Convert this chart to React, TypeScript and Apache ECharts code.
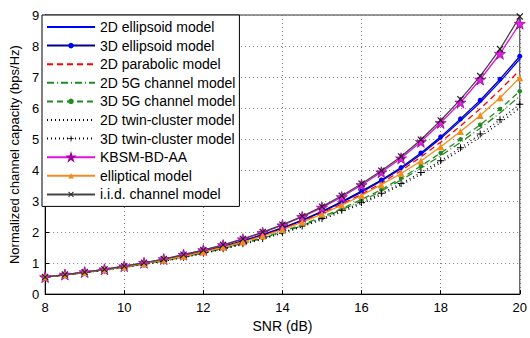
import React, { useEffect, useRef } from "react";
import * as echarts from "echarts";

const snr = [8, 8.5, 9, 9.5, 10, 10.5, 11, 11.5, 12, 12.5, 13, 13.5, 14, 14.5, 15, 15.5, 16, 16.5, 17, 17.5, 18, 18.5, 19, 19.5, 20];

const ellipsoid2D = [0.55, 0.62, 0.7, 0.79, 0.88, 0.99, 1.1, 1.23, 1.37, 1.53, 1.71, 1.9, 2.12, 2.37, 2.65, 2.96, 3.29, 3.65, 4.04, 4.5, 5.02, 5.59, 6.18, 6.85, 7.58];
const ellipsoid3D = [0.55, 0.62, 0.7, 0.79, 0.89, 0.99, 1.11, 1.24, 1.38, 1.54, 1.72, 1.92, 2.14, 2.39, 2.67, 2.98, 3.32, 3.68, 4.08, 4.55, 5.07, 5.65, 6.25, 6.93, 7.67];
const parabolic2D = [0.55, 0.62, 0.7, 0.79, 0.88, 0.99, 1.1, 1.22, 1.36, 1.52, 1.69, 1.88, 2.1, 2.34, 2.61, 2.9, 3.22, 3.58, 3.98, 4.42, 4.9, 5.42, 5.98, 6.58, 7.22];
const g5_2D = [0.55, 0.62, 0.69, 0.78, 0.87, 0.97, 1.07, 1.19, 1.32, 1.47, 1.63, 1.8, 1.99, 2.21, 2.45, 2.72, 3.0, 3.32, 3.68, 4.06, 4.46, 4.89, 5.35, 5.84, 6.38];
const g5_3D = [0.55, 0.62, 0.7, 0.78, 0.87, 0.97, 1.08, 1.2, 1.33, 1.48, 1.64, 1.82, 2.02, 2.24, 2.49, 2.76, 3.05, 3.37, 3.74, 4.13, 4.55, 4.99, 5.46, 5.97, 6.54];
const twin2D = [0.55, 0.62, 0.69, 0.77, 0.86, 0.96, 1.06, 1.18, 1.31, 1.45, 1.6, 1.77, 1.96, 2.17, 2.4, 2.65, 2.91, 3.2, 3.52, 3.86, 4.24, 4.64, 5.07, 5.52, 6.0];
const twin3D = [0.55, 0.62, 0.7, 0.78, 0.87, 0.96, 1.07, 1.19, 1.32, 1.46, 1.62, 1.79, 1.98, 2.2, 2.44, 2.7, 2.95, 3.25, 3.57, 3.92, 4.3, 4.72, 5.16, 5.62, 6.12];
const kbsm = [0.55, 0.63, 0.71, 0.8, 0.9, 1.01, 1.13, 1.27, 1.42, 1.58, 1.77, 1.98, 2.22, 2.49, 2.79, 3.13, 3.52, 3.93, 4.38, 4.91, 5.52, 6.18, 6.92, 7.75, 8.72];
const elliptical = [0.55, 0.62, 0.7, 0.79, 0.88, 0.98, 1.1, 1.22, 1.36, 1.51, 1.68, 1.87, 2.08, 2.32, 2.58, 2.87, 3.18, 3.53, 3.89, 4.29, 4.75, 5.24, 5.76, 6.33, 6.98];
const iid = [0.55, 0.63, 0.71, 0.8, 0.9, 1.01, 1.13, 1.27, 1.42, 1.59, 1.78, 2.0, 2.24, 2.51, 2.82, 3.17, 3.56, 3.98, 4.44, 4.98, 5.6, 6.28, 7.03, 7.9, 8.95];

const seriesNames = [
  "2D ellipsoid model",
  "3D ellipsoid model",
  "2D parabolic model",
  "2D 5G channel model",
  "3D 5G channel model",
  "2D twin-cluster model",
  "3D twin-cluster model",
  "KBSM-BD-AA",
  "elliptical model",
  "i.i.d. channel model",
];

const xTicks = { min: 8, max: 20, interval: 2 };
const yTicks = { min: 0, max: 9, interval: 1 };

const STAR = "path://M10,0 L12.25,6.91 L19.51,6.91 L13.63,11.18 L15.88,18.09 L10,13.82 L4.12,18.09 L6.37,11.18 L0.49,6.91 L7.75,6.91 Z";
const XMARK = "path://M0,1.2 L1.2,0 L5,3.8 L8.8,0 L10,1.2 L6.2,5 L10,8.8 L8.8,10 L5,6.2 L1.2,10 L0,8.8 L3.8,5 Z";
const PLUS = "path://M4.3,0 H5.7 V4.3 H10 V5.7 H5.7 V10 H4.3 V5.7 H0 V4.3 H4.3 Z";

const FONT = "Liberation Sans";

function pairs(ys: number[]) {
  return snr.map((x, i) => [x, ys[i]]);
}

export default function App() {
  const ref = useRef<HTMLDivElement>(null);
  useEffect(() => {
    if (!ref.current) return;
    const chart = echarts.init(ref.current, undefined, { renderer: "svg" });
    const mk = (
      name: string,
      ys: number[],
      color: string,
      type: any,
      symbol: string,
      symbolSize: number,
      markerColor?: string,
      borderColor?: string
    ) => ({
      name,
      type: "line",
      data: pairs(ys),
      symbol: symbol === "none" ? "circle" : symbol,
      symbolSize,
      showSymbol: symbol !== "none",
      lineStyle: { color, width: 1.3, type },
      itemStyle: {
        color: markerColor || color,
        borderColor: borderColor || markerColor || color,
        borderWidth: borderColor ? 0.8 : 0,
      },
      emphasis: { disabled: true },
      z: 2,
    });
    const noMarker = [true, false, true, true, false, true, false, false, false, false];
    chart.setOption({
      animation: false,
      grid: {
        left: 41.5,
        right: 10,
        top: 15,
        bottom: 36,
        show: true,
        borderColor: "#333",
        borderWidth: 1,
        backgroundColor: "#fff",
      },
      legend: {
        orient: "vertical",
        left: 42,
        top: 15,
        padding: [5, 4, 5, 4],
        itemWidth: 48,
        itemHeight: 7,
        itemGap: 4.6,
        backgroundColor: "#fff",
        borderColor: "#000",
        borderWidth: 1,
        borderRadius: 0,
        selectedMode: false,
        textStyle: { fontFamily: FONT, fontSize: 14, color: "#000", lineHeight: 14 },
        data: seriesNames.map((n, i) =>
          noMarker[i] ? { name: n, itemStyle: { opacity: 0 } } : { name: n }
        ),
        z: 10,
      },
      xAxis: {
        type: "value",
        min: xTicks.min,
        max: xTicks.max,
        interval: xTicks.interval,
        name: "SNR (dB)",
        nameLocation: "middle",
        nameGap: 22,
        nameTextStyle: { fontFamily: FONT, fontSize: 14, color: "#000" },
        axisLine: { show: true, lineStyle: { color: "#000", width: 1 } },
        axisTick: { show: true, inside: true, length: 4, lineStyle: { color: "#000" } },
        axisLabel: { fontFamily: FONT, fontSize: 13, color: "#000", margin: 7 },
        splitLine: { show: true, lineStyle: { color: "#777", type: [1, 3], width: 1 } },
      },
      yAxis: {
        type: "value",
        min: yTicks.min,
        max: yTicks.max,
        interval: yTicks.interval,
        name: "Normalized channel capacity (bps/Hz)",
        nameLocation: "middle",
        nameGap: 23,
        nameTextStyle: { fontFamily: FONT, fontSize: 13, color: "#000" },
        axisLine: { show: true, lineStyle: { color: "#000", width: 1 } },
        axisTick: { show: true, inside: true, length: 4, lineStyle: { color: "#000" } },
        axisLabel: { fontFamily: FONT, fontSize: 13, color: "#000", margin: 6 },
        splitLine: { show: true, lineStyle: { color: "#777", type: [1, 3], width: 1 } },
      },
      series: [
        mk(seriesNames[0], ellipsoid2D, "#0000ff", "solid", "none", 0),
        mk(seriesNames[1], ellipsoid3D, "#00008b", "solid", "circle", 5, "#0000ff"),
        mk(seriesNames[2], parabolic2D, "#ff0000", [6, 4], "none", 0),
        mk(seriesNames[3], g5_2D, "#228b22", [7, 3, 1, 3], "none", 0),
        mk(seriesNames[4], g5_3D, "#228b22", [6, 4], "circle", 4.5),
        mk(seriesNames[5], twin2D, "#000000", [1, 3], "none", 0),
        mk(seriesNames[6], twin3D, "#000000", [1, 3], PLUS, 7),
        mk(seriesNames[7], kbsm, "#e010e0", "solid", STAR, 11, "#e020e0", "#a000a0"),
        mk(seriesNames[8], elliptical, "#f28c1c", "solid", "triangle", 7),
        mk(seriesNames[9], iid, "#444444", "solid", XMARK, 7, "#222222"),
      ],
    });
    return () => chart.dispose();
  }, []);
  return <div ref={ref} style={{ width: 530, height: 338, position: "absolute", left: 0, top: 0, background: "#fff" }} />;
}
